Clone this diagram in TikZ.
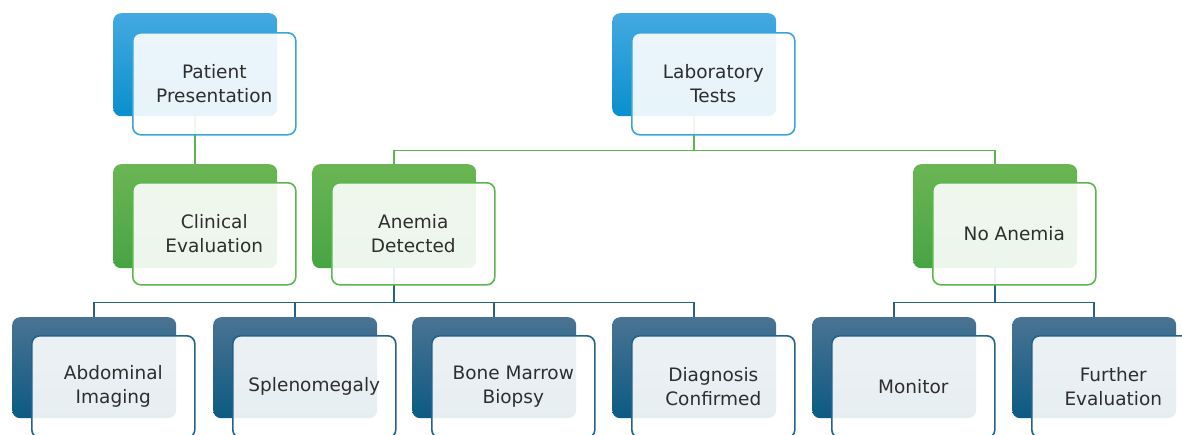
\documentclass[tikz,border=0pt]{standalone}
\usepackage{fontspec}
\setmainfont{DejaVu Sans}
\definecolor{bluetop}{HTML}{44A9E0}
\definecolor{bluebot}{HTML}{0A8FCD}
\definecolor{blueline}{HTML}{3AA5DC}
\definecolor{greentop}{HTML}{6BB554}
\definecolor{greenbot}{HTML}{47A443}
\definecolor{greenline}{HTML}{5CB64F}
\definecolor{tealtop}{HTML}{4A7393}
\definecolor{tealbot}{HTML}{0C5A82}
\definecolor{tealline}{HTML}{24628A}
\definecolor{textgray}{HTML}{2E2E2E}
\begin{document}
\begin{tikzpicture}[x=1pt,y=-1pt,
  back/.style={anchor=north west, rounded corners=8pt, minimum width=164pt, inner sep=0pt, draw=none},
  blueback/.style={back, top color=bluetop, bottom color=bluebot, minimum height=103pt},
  greenback/.style={back, top color=greentop, bottom color=greenbot, minimum height=104pt},
  tealback/.style={back, top color=tealtop, bottom color=tealbot, minimum height=101pt},
  front/.style={anchor=north west, rounded corners=8pt, minimum width=163pt, minimum height=102pt,
    inner sep=0pt, fill=white, fill opacity=0.9, text opacity=1, line width=1.6pt,
    align=center, text=textgray, font=\fontsize{18.5}{24}\selectfont},
  bluefront/.style={front, draw=blueline},
  greenfront/.style={front, draw=greenline},
  tealfront/.style={front, draw=tealline},
  gconn/.style={draw=greenline, line width=1.6pt},
  tconn/.style={draw=tealline, line width=1.6pt}
]
\useasboundingbox (0,0) rectangle (1182,434);
% back boxes
\node[blueback] (patB) at (113,13) {};
\node[blueback] (labB) at (612,13) {};
\node[greenback] (clinB) at (113,164) {};
\node[greenback] (anemB) at (312,164) {};
\node[greenback] (noanB) at (913,164) {};
\node[tealback] (abdB) at (12,317) {};
\node[tealback] (splB) at (213,317) {};
\node[tealback] (bmbB) at (412,317) {};
\node[tealback] (diaB) at (612,317) {};
\node[tealback] (monB) at (812,317) {};
\node[tealback] (furB) at (1012,317) {};
% connectors
\draw[gconn] (patB.south) -- (clinB.north);
\draw[gconn] (labB.south) -- ++(0,34) -| (anemB.north);
\draw[gconn] (labB.south) -- ++(0,34) -| (noanB.north);
\draw[tconn] (anemB.south) -- ++(0,34) -| (abdB.north);
\draw[tconn] (anemB.south) -- ++(0,34) -| (splB.north);
\draw[tconn] (anemB.south) -- ++(0,34) -| (bmbB.north);
\draw[tconn] (anemB.south) -- ++(0,34) -| (diaB.north);
\draw[tconn] (noanB.south) -- ++(0,34) -| (monB.north);
\draw[tconn] (noanB.south) -- ++(0,34) -| (furB.north);
% front boxes
\node[bluefront] (pat) at (132,32) {Patient\\Presentation};
\node[bluefront] (lab) at (631,32) {Laboratory\\Tests};
\node[greenfront] (clin) at (132,182) {Clinical\\Evaluation};
\node[greenfront] (anem) at (331,182) {Anemia\\Detected};
\node[greenfront] (noan) at (932,182) {No Anemia};
\node[tealfront] (abd) at (31,335) {Abdominal\\Imaging};
\node[tealfront] (spl) at (232,335) {Splenomegaly};
\node[tealfront] (bmb) at (431,335) {Bone Marrow\\Biopsy};
\node[tealfront] (dia) at (631,335) {Diagnosis\\Confirmed};
\node[tealfront] (mon) at (831,335) {Monitor};
\node[tealfront] (fur) at (1031,335) {Further\\Evaluation};
\end{tikzpicture}
\end{document}
